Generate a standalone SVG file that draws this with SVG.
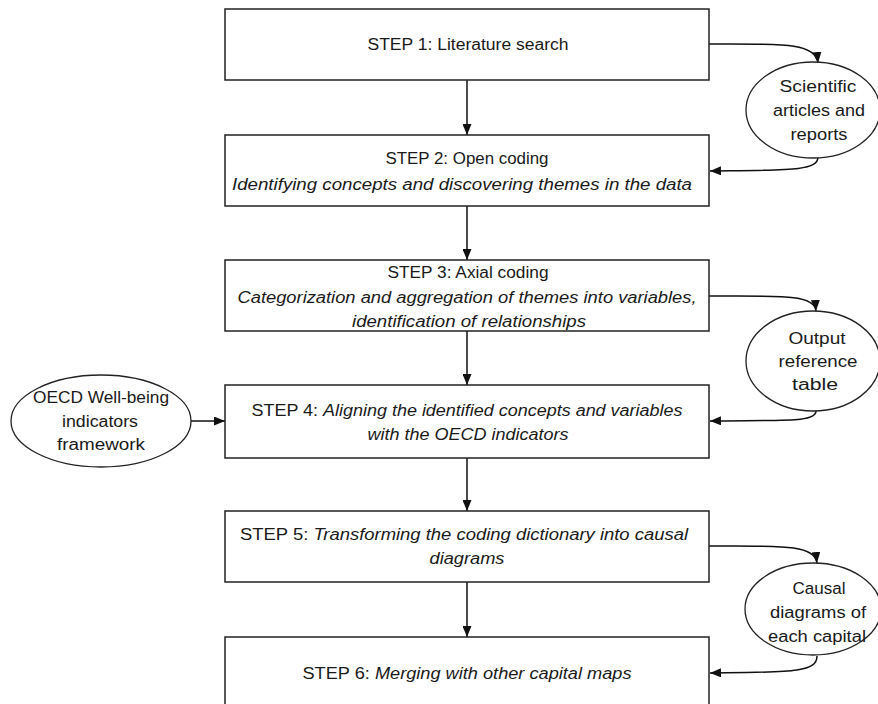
<svg xmlns="http://www.w3.org/2000/svg" width="878" height="704" viewBox="0 0 878 704">
  <defs>
    <marker id="arrow" markerUnits="userSpaceOnUse" markerWidth="11" markerHeight="9" refX="11" refY="4.5" orient="auto">
      <path d="M0,0 L11,4.5 L0,9 z" fill="#111"/>
    </marker>
    <style>
      .box { fill: #fff; stroke: #222; stroke-width: 1.5; }
      .ell { fill: #fff; stroke: #222; stroke-width: 1.3; }
      .conn { fill: none; stroke: #111; stroke-width: 1.5; marker-end: url(#arrow); }
      text { font-family: "Liberation Sans", Arial, sans-serif; font-size: 16px; fill: #1a1a1a; text-anchor: middle; }
      .it { font-style: italic; }
    </style>
  </defs>
  <rect width="878" height="704" fill="#fff"/>

  <g id="connectors">
    <line class="conn" x1="467" y1="80" x2="467" y2="135"/>
    <line class="conn" x1="467" y1="206" x2="467" y2="260"/>
    <line class="conn" x1="467" y1="331" x2="467" y2="385"/>
    <line class="conn" x1="467" y1="458" x2="467" y2="511"/>
    <line class="conn" x1="467" y1="582" x2="467" y2="637"/>
    <path class="conn" d="M709,44 C780,44 816,42 818,63"/>
    <path class="conn" d="M818,157 C818,171 790,170 710,171"/>
    <path class="conn" d="M709,296 C780,296 815,294 816,311"/>
    <path class="conn" d="M816,411 C816,422 790,420 710,421"/>
    <path class="conn" d="M709,546 C780,546 815,544 817,563"/>
    <path class="conn" d="M817,656 C817,673 790,672 710,673"/>
    <line class="conn" x1="191" y1="421" x2="225" y2="421"/>
  </g>

  <g id="step1">
    <rect class="box" x="225" y="9" width="484" height="71"/>
    <text x="468" y="50" textLength="201" lengthAdjust="spacingAndGlyphs">STEP 1: Literature search</text>
  </g>
  <g id="step2">
    <rect class="box" x="225" y="135" width="484" height="71"/>
    <text x="467" y="164" textLength="163" lengthAdjust="spacingAndGlyphs">STEP 2: Open coding</text>
    <text class="it" x="462" y="190" textLength="460" lengthAdjust="spacingAndGlyphs">Identifying concepts and discovering themes in the data</text>
  </g>
  <g id="step3">
    <rect class="box" x="225" y="260" width="484" height="71"/>
    <text x="468" y="278" textLength="161" lengthAdjust="spacingAndGlyphs">STEP 3: Axial coding</text>
    <text class="it" x="467" y="303" textLength="459" lengthAdjust="spacingAndGlyphs">Categorization and aggregation of themes into variables,</text>
    <text class="it" x="469" y="327" textLength="234" lengthAdjust="spacingAndGlyphs">identification of relationships</text>
  </g>
  <g id="step4">
    <rect class="box" x="225" y="385" width="484" height="73"/>
    <text x="467" y="416" textLength="431" lengthAdjust="spacingAndGlyphs">STEP 4: <tspan class="it">Aligning the identified concepts and variables</tspan></text>
    <text class="it" x="468" y="440" textLength="201" lengthAdjust="spacingAndGlyphs">with the OECD indicators</text>
  </g>
  <g id="step5">
    <rect class="box" x="225" y="511" width="484" height="71"/>
    <text x="464" y="540" textLength="448" lengthAdjust="spacingAndGlyphs">STEP 5: <tspan class="it">Transforming the coding dictionary into causal</tspan></text>
    <text class="it" x="467" y="564" textLength="75" lengthAdjust="spacingAndGlyphs">diagrams</text>
  </g>
  <g id="step6">
    <rect class="box" x="225" y="637" width="484" height="80"/>
    <text x="467" y="679" textLength="329" lengthAdjust="spacingAndGlyphs">STEP 6: <tspan class="it">Merging with other capital maps</tspan></text>
  </g>

  <g id="scientific-articles">
    <ellipse class="ell" cx="813" cy="110" rx="67" ry="48"/>
    <text x="818" y="92" textLength="77" lengthAdjust="spacingAndGlyphs">Scientific</text>
    <text x="819" y="116" textLength="92" lengthAdjust="spacingAndGlyphs">articles and</text>
    <text x="819" y="140" textLength="57" lengthAdjust="spacingAndGlyphs">reports</text>
  </g>
  <g id="output-table">
    <ellipse class="ell" cx="813" cy="361" rx="67" ry="50"/>
    <text x="817" y="344" textLength="57" lengthAdjust="spacingAndGlyphs">Output</text>
    <text x="818" y="367" textLength="79" lengthAdjust="spacingAndGlyphs">reference</text>
    <text x="815" y="390" textLength="46" lengthAdjust="spacingAndGlyphs">table</text>
  </g>
  <g id="oecd-framework">
    <ellipse class="ell" cx="101" cy="421" rx="90" ry="46"/>
    <text x="101" y="403" textLength="136" lengthAdjust="spacingAndGlyphs">OECD Well-being</text>
    <text x="100" y="427" textLength="76" lengthAdjust="spacingAndGlyphs">indicators</text>
    <text x="101" y="450" textLength="88" lengthAdjust="spacingAndGlyphs">framework</text>
  </g>
  <g id="causal-diagrams">
    <ellipse class="ell" cx="813" cy="609" rx="68" ry="46"/>
    <text x="819" y="594" textLength="53" lengthAdjust="spacingAndGlyphs">Causal</text>
    <text x="818" y="618" textLength="96" lengthAdjust="spacingAndGlyphs">diagrams of</text>
    <text x="817" y="642" textLength="98" lengthAdjust="spacingAndGlyphs">each capital</text>
  </g>
</svg>
